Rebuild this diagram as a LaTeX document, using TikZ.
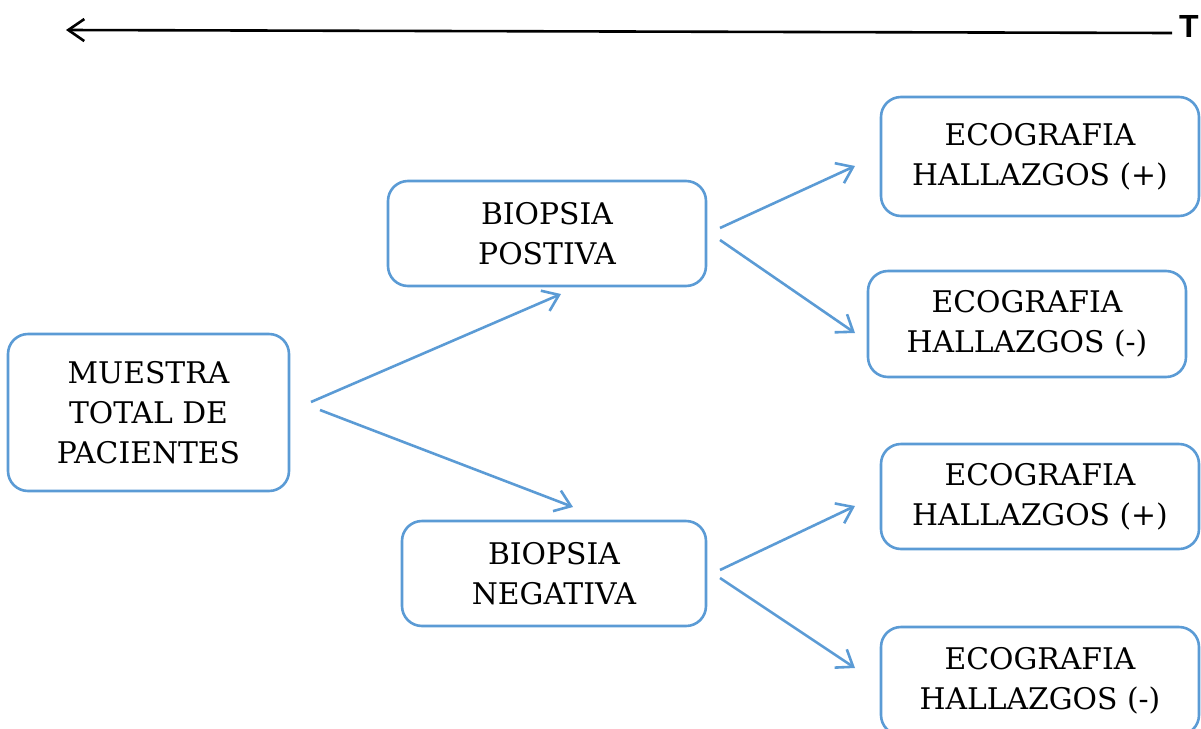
\documentclass[tikz,border=0pt]{standalone}
\usepackage{fontspec}
\setmainfont{DejaVu Serif}
\newfontfamily\tfont{Liberation Sans}
\usetikzlibrary{arrows.meta}
\definecolor{boxblue}{HTML}{5B9BD5}
\tikzset{
  flowbox/.style={draw=boxblue, line width=1.3pt, rounded corners=10pt, fill=white,
    align=center, inner sep=0pt, font=\fontsize{14.9}{20}\selectfont},
  flowarrow/.style={draw=boxblue, line width=1.3pt,
    -{Straight Barb[length=7.5pt,width=11pt,line width=1.3pt]}},
  timearrow/.style={draw=black, line width=1.3pt,
    -{Straight Barb[length=8pt,width=11pt,line width=1.3pt]}}
}
\begin{document}
\begin{tikzpicture}[x=0.5pt,y=-0.5pt]
\useasboundingbox (0,0) rectangle (1201,729);
% time axis
\node[font=\tfont\bfseries\fontsize{16}{16}\selectfont, inner sep=0pt] (T) at (1189,26) {T};
\coordinate (tr) at (1172,33);
\coordinate (tl) at (66,30);
\draw[timearrow] (tr) -- (tl);
% boxes
\node[flowbox, minimum width=140.5pt, minimum height=78.5pt] (m) at (148.5,412.5) {MUESTRA\\TOTAL DE\\PACIENTES};
\node[flowbox, minimum width=159pt, minimum height=52.5pt] (bp) at (547,233.5) {BIOPSIA\\POSTIVA};
\node[flowbox, minimum width=152pt, minimum height=52.5pt] (bn) at (554,573.5) {BIOPSIA\\NEGATIVA};
\node[flowbox, minimum width=159pt, minimum height=59.5pt] (e1) at (1040,156.5) {ECOGRAFIA\\HALLAZGOS (+)};
\node[flowbox, minimum width=159pt, minimum height=53pt] (e2) at (1027,324) {ECOGRAFIA\\HALLAZGOS (-)};
\node[flowbox, minimum width=159pt, minimum height=52.5pt] (e3) at (1040,496.5) {ECOGRAFIA\\HALLAZGOS (+)};
\node[flowbox, minimum width=159pt, minimum height=54pt] (e4) at (1040,681) {ECOGRAFIA\\HALLAZGOS (-)};
% arrow end points
\coordinate (m1) at (311,402); \coordinate (bp1) at (561,294);
\coordinate (m2) at (320,410); \coordinate (bn1) at (573,507);
\coordinate (p1) at (720,228); \coordinate (e1a) at (855,166);
\coordinate (p2) at (720,240); \coordinate (e2a) at (855,333);
\coordinate (n1) at (720,570); \coordinate (e3a) at (855,506);
\coordinate (n2) at (720,578); \coordinate (e4a) at (855,668);
\draw[flowarrow] (m1) -- (bp1);
\draw[flowarrow] (m2) -- (bn1);
\draw[flowarrow] (p1) -- (e1a);
\draw[flowarrow] (p2) -- (e2a);
\draw[flowarrow] (n1) -- (e3a);
\draw[flowarrow] (n2) -- (e4a);
\end{tikzpicture}
\end{document}
